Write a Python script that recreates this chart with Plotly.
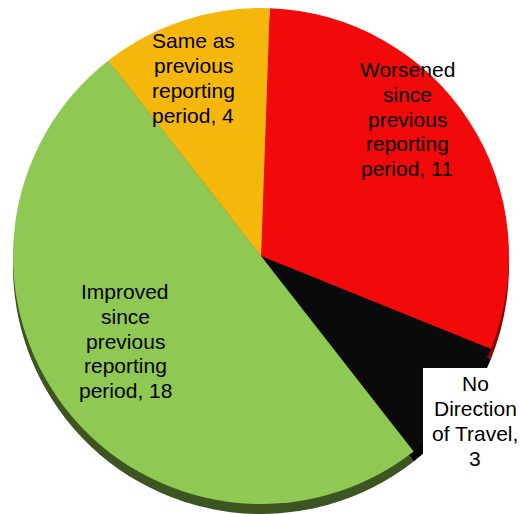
import plotly.graph_objects as go

categories = ["Worsened since previous reporting period",
              "No Direction of Travel",
              "Improved since previous reporting period",
              "Same as previous reporting period"]
values = [11, 3, 18, 4]
label_lines = [["Worsened", "since", "previous", "reporting", "period, {v}"],
               ["No", "Direction", "of Travel,", "{v}"],
               ["Improved", "since", "previous", "reporting", "period, {v}"],
               ["Same as", "previous", "reporting", "period, {v}"]]

top_colors = ["#F20A0A", "#0A0A0A", "#8FC852", "#F5B70C"]
edge_colors = ["#8A0505", "#000000", "#3C5521", "#8A6605"]

W, H = 520, 514
label_pos = [(407, 119), (475, 421), (125, 341), (193, 78)]
LINE = 24.7
FONT = dict(family="Liberation Sans, Arial", size=21, color="#000000")

def px(x, y):
    return x / W, 1 - y / H

def dom(x0, x1, y0, y1):
    return dict(x=[x0 / W, x1 / W],
                y=[max(0.0, 1 - y1 / H), min(1.0, 1 - y0 / H)])

fig = go.Figure()
# 3D edge (shifted down)
fig.add_trace(go.Pie(
    labels=categories, values=values, sort=False, direction="clockwise",
    rotation=2, marker=dict(colors=edge_colors, line=dict(width=0)),
    textinfo="none", hoverinfo="skip", showlegend=False,
    domain=dom(13, 509, 18, 514)))
# top surface
fig.add_trace(go.Pie(
    labels=categories, values=values, sort=False, direction="clockwise",
    rotation=2, marker=dict(colors=top_colors, line=dict(width=0)),
    textinfo="none", showlegend=False,
    domain=dom(13, 509, 8, 504)))

# white background box for the outside label
x0, y0 = px(423, 368)
x1, y1 = px(520, 514)
fig.add_shape(type="rect", xref="paper", yref="paper", x0=x0, y0=y1, x1=x1, y1=y0,
              fillcolor="#FFFFFF", line=dict(width=0), layer="above")

for i in range(len(categories)):
    cx, cy = label_pos[i]
    lines = [ln.format(v=values[i]) for ln in label_lines[i]]
    n = len(lines)
    for k, ln in enumerate(lines):
        ax, ay = px(cx, cy + (k - (n - 1) / 2) * LINE)
        fig.add_annotation(x=ax, y=ay, xref="paper", yref="paper",
                           xanchor="center", yanchor="middle",
                           text=ln, showarrow=False, font=FONT)

fig.update_layout(width=W, height=H, margin=dict(l=0, r=0, t=0, b=0),
                  paper_bgcolor="#FFFFFF", plot_bgcolor="#FFFFFF")
fig.write_html("out.html", config={"displayModeBar": False},
               post_script="document.body.style.margin='0';"
                           "document.body.style.overflow='hidden';")
